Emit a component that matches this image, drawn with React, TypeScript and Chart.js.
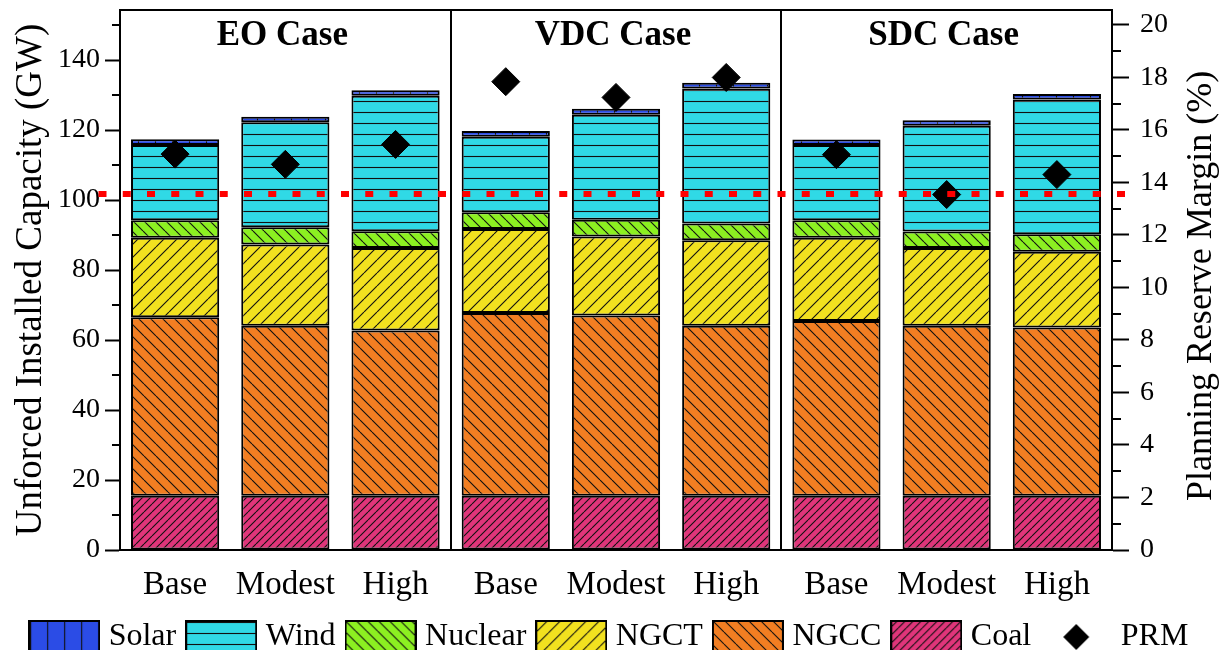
import React, { useEffect, useRef } from 'react';
import { Chart, registerables } from 'chart.js';

Chart.register(...registerables);

// ---------- data ----------
const categories = ['Base', 'Modest', 'High', 'Base', 'Modest', 'High', 'Base', 'Modest', 'High'];
const caseTitles = ['EO Case', 'VDC Case', 'SDC Case'];
const caseCenterIndex = [1, 4, 7];

const coal = [15.5, 15.5, 15.5, 15.5, 15.5, 15.5, 15.5, 15.5, 15.5];
const ngcc = [51.0, 48.6, 47.2, 52.2, 51.5, 48.6, 49.9, 48.6, 48.1];
const ngct = [22.7, 23.2, 23.6, 24.0, 22.6, 24.4, 23.8, 22.2, 21.6];
const nuclear = [5.0, 4.9, 4.8, 4.8, 4.8, 4.8, 5.0, 4.7, 5.0];
const wind = [21.5, 30.0, 38.7, 21.6, 30.0, 38.6, 21.5, 30.2, 38.5];
const solar = [1.7, 1.6, 1.6, 1.6, 1.7, 1.6, 1.6, 1.6, 1.6];
const prm = [15.08, 14.69, 15.45, 17.84, 17.24, 18.0, 15.06, 13.54, 14.3];
const prmTarget = 13.56;

const leftMax = 154.3;
const leftStep = 20;
const leftMinorTicks = [10, 30, 50, 70, 90, 110, 130, 150];
const rightMax = 20.57;
const rightStep = 2;
const rightMinorTicks = [1, 3, 5, 7, 9, 11, 13, 15, 17, 19];

const seriesNames = ['Coal', 'NGCC', 'NGCT', 'Nuclear', 'Wind', 'Solar'];
const seriesColors = ['#e0357a', '#f27e22', '#f2e11f', '#8cf021', '#30d9e6', '#2b4ce6'];
const legendOrder = [5, 4, 3, 2, 1, 0, 6];

const SERIF = "'Liberation Serif', 'Times New Roman', serif";

type Kind = '/' | '\\' | 'h' | 'v';
const seriesHatch: { kind: Kind; size: number }[] = [
  { kind: '/', size: 8 },
  { kind: '\\', size: 12 },
  { kind: '/', size: 13 },
  { kind: '\\', size: 11 },
  { kind: 'h', size: 11 },
  { kind: 'v', size: 17 },
];

function makePattern(kind: Kind, bg: string, size: number): CanvasPattern {
  const c = document.createElement('canvas');
  let w = size;
  let h = size;
  if (kind === 'h') w = 8;
  if (kind === 'v') h = 8;
  c.width = w;
  c.height = h;
  const g = c.getContext('2d')!;
  g.fillStyle = bg;
  g.fillRect(0, 0, w, h);
  g.strokeStyle = '#111';
  g.lineWidth = 1.1;
  g.beginPath();
  if (kind === 'h') {
    g.moveTo(0, 2.5);
    g.lineTo(w, 2.5);
  } else if (kind === 'v') {
    g.moveTo(2.5, 0);
    g.lineTo(2.5, h);
  } else if (kind === '/') {
    for (const o of [-w, 0, w]) {
      g.moveTo(o, h);
      g.lineTo(o + w, 0);
    }
  } else {
    for (const o of [-w, 0, w]) {
      g.moveTo(o, 0);
      g.lineTo(o + w, h);
    }
  }
  g.stroke();
  return g.createPattern(c, 'repeat')!;
}

function legendBox(pattern: CanvasPattern): HTMLCanvasElement {
  const c = document.createElement('canvas');
  c.width = 72;
  c.height = 34;
  const g = c.getContext('2d')!;
  g.fillStyle = pattern;
  g.fillRect(0, 0, 72, 34);
  g.strokeStyle = '#000';
  g.lineWidth = 2;
  g.strokeRect(1, 1, 70, 32);
  return c;
}

function legendDiamond(): HTMLCanvasElement {
  const c = document.createElement('canvas');
  c.width = 72;
  c.height = 34;
  const g = c.getContext('2d')!;
  g.fillStyle = '#000';
  g.beginPath();
  g.moveTo(36 - 13, 17);
  g.lineTo(36, 17 - 13);
  g.lineTo(36 + 13, 17);
  g.lineTo(36, 17 + 13);
  g.closePath();
  g.fill();
  return c;
}

const decorPlugin = {
  id: 'decor',
  afterDraw(chart: any) {
    const { ctx, chartArea, scales } = chart;
    const x = scales.x;
    const y = scales.y;
    const y2 = scales.y2;
    ctx.save();
    // top frame line
    ctx.strokeStyle = '#000';
    ctx.lineWidth = 2;
    ctx.beginPath();
    ctx.moveTo(chartArea.left - 1, chartArea.top);
    ctx.lineTo(chartArea.right + 1, chartArea.top);
    ctx.stroke();
    // minor ticks
    ctx.lineWidth = 2;
    ctx.beginPath();
    for (const v of leftMinorTicks) {
      const py = Math.round(y.getPixelForValue(v));
      ctx.moveTo(chartArea.left - 8, py);
      ctx.lineTo(chartArea.left, py);
    }
    for (const v of rightMinorTicks) {
      const py = Math.round(y2.getPixelForValue(v));
      ctx.moveTo(chartArea.right, py);
      ctx.lineTo(chartArea.right + 9, py);
    }
    ctx.stroke();
    // case titles
    ctx.fillStyle = '#000';
    ctx.font = `bold 35px ${SERIF}`;
    ctx.textAlign = 'center';
    ctx.textBaseline = 'middle';
    caseTitles.forEach((t, i) => {
      ctx.fillText(t, x.getPixelForValue(caseCenterIndex[i]) - 3, chartArea.top + 26);
    });
    // right axis title (reads bottom to top)
    ctx.font = `36px ${SERIF}`;
    ctx.save();
    ctx.translate(1202, (chartArea.top + chartArea.bottom) / 2 + 6);
    ctx.rotate(-Math.PI / 2);
    ctx.fillText('Planning Reserve Margin (%)', 0, 0);
    ctx.restore();
    // target PRM dotted line
    const ty = y2.getPixelForValue(prmTarget);
    ctx.strokeStyle = '#ff0000';
    ctx.lineWidth = 6;
    ctx.setLineDash([8, 16.25]);
    ctx.beginPath();
    ctx.moveTo(chartArea.left - 21.5, ty);
    ctx.lineTo(chartArea.right + 14, ty);
    ctx.stroke();
    ctx.restore();
  },
};

export default function App() {
  const ref = useRef<HTMLCanvasElement>(null);

  useEffect(() => {
    document.body.style.margin = '0';
    document.documentElement.style.overflow = 'hidden';
    const canvas = ref.current!;

    const patterns = seriesNames.map((_, i) =>
      makePattern(seriesHatch[i].kind, seriesColors[i], seriesHatch[i].size)
    );
    const legendImages: HTMLCanvasElement[] = patterns.map((p) => legendBox(p));
    legendImages.push(legendDiamond());

    const seriesData = [coal, ngcc, ngct, nuclear, wind, solar];

    const barSets = seriesNames.map((name, i) => ({
      type: 'bar' as const,
      label: name,
      data: seriesData[i],
      backgroundColor: patterns[i],
      borderColor: '#000',
      borderWidth: 2,
      borderSkipped: false as const,
      barPercentage: 0.8,
      categoryPercentage: 1.0,
      yAxisID: 'y',
      order: 1,
    }));

    const chart = new Chart(canvas, {
      type: 'bar',
      data: {
        labels: categories,
        datasets: [
          ...barSets,
          {
            type: 'line' as const,
            label: 'PRM',
            data: prm,
            yAxisID: 'y2',
            showLine: false,
            pointStyle: 'rectRot',
            pointRadius: 14,
            pointBackgroundColor: '#000',
            pointBorderColor: '#000',
            borderColor: '#000',
            backgroundColor: '#000',
            order: 0,
          } as any,
        ],
      },
      options: {
        responsive: false,
        animation: false,
        devicePixelRatio: 1,
        events: [],
        layout: { autoPadding: false, padding: { top: 10, left: 0, right: 0, bottom: 0 } },
        plugins: {
          tooltip: { enabled: false },
          legend: {
            position: 'bottom',
            labels: {
              usePointStyle: true,
              pointStyleWidth: 57,
              padding: 16.5,
              color: '#000',
              font: { family: SERIF, size: 32 },
              generateLabels: (ch: any) => {
                const items = Chart.defaults.plugins.legend.labels.generateLabels(ch);
                return legendOrder.map((di) => {
                  const it = items.find((x: any) => x.datasetIndex === di)!;
                  return { ...it, pointStyle: legendImages[di], lineWidth: 0 };
                });
              },
            },
          },
        },
        scales: {
          x: {
            stacked: true,
            offset: true,
            grid: {
              offset: true,
              drawTicks: false,
              lineWidth: 2,
              color: (c: any) => (c.index === 3 || c.index === 6 ? '#000' : 'rgba(0,0,0,0)'),
            },
            border: { display: true, color: '#000', width: 2 },
            ticks: {
              color: '#000',
              font: { family: SERIF, size: 33 },
              padding: 16,
              autoSkip: false,
              maxRotation: 0,
            },
            afterFit: (s: any) => {
              s.height = 54.5;
              s.paddingLeft = 0;
              s.paddingRight = 0;
            },
          },
          y: {
            stacked: true,
            position: 'left',
            min: 0,
            max: leftMax,
            grid: {
              drawOnChartArea: false,
              drawTicks: true,
              tickLength: 15,
              tickWidth: 2,
              tickColor: '#000',
            },
            border: { display: true, color: '#000', width: 2 },
            ticks: {
              stepSize: leftStep,
              includeBounds: false,
              color: '#000',
              padding: 5,
              font: { family: SERIF, size: 28 },
            },
            title: {
              display: true,
              text: 'Unforced Installed Capacity (GW)',
              color: '#000',
              font: { family: SERIF, size: 37 },
              padding: { top: 9, bottom: 0 },
            },
            afterFit: (s: any) => {
              s.width = 120;
              s.paddingTop = 0;
              s.paddingBottom = 0;
            },
          },
          y2: {
            position: 'right',
            min: 0,
            max: rightMax,
            grid: {
              drawOnChartArea: false,
              drawTicks: true,
              tickLength: 17,
              tickWidth: 2,
              tickColor: '#000',
            },
            border: { display: true, color: '#000', width: 2 },
            ticks: {
              stepSize: rightStep,
              includeBounds: false,
              color: '#000',
              padding: 11,
              font: { family: SERIF, size: 28 },
            },
            afterFit: (s: any) => {
              s.width = 112;
              s.paddingTop = 0;
              s.paddingBottom = 0;
            },
          },
        },
      } as any,
      plugins: [decorPlugin],
    });

    return () => chart.destroy();
  }, []);

  return (
    <div style={{ width: 1224, height: 650, overflow: 'hidden' }}>
      <canvas ref={ref} width={1224} height={663} style={{ display: 'block' }} />
    </div>
  );
}
